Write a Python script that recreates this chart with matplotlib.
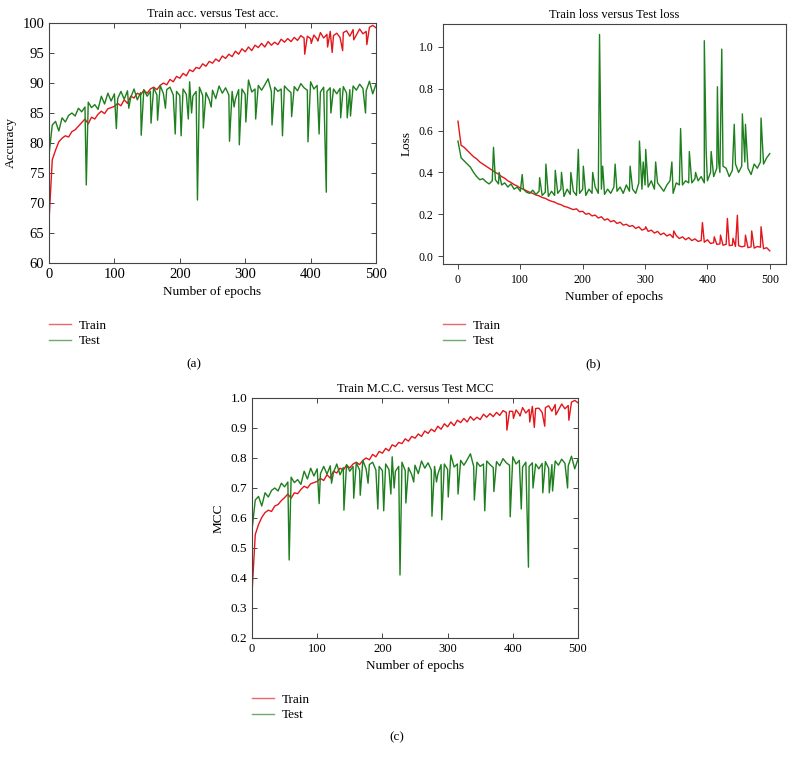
import matplotlib
matplotlib.use("Agg")
import matplotlib.pyplot as plt
import numpy as np

plt.rcParams['font.family'] = ['Liberation Serif', 'DejaVu Serif']

# base curves read every 5 epochs, plus single-epoch spikes read separately
epochs = np.arange(0, 501, 5)

train_acc = [67.0, 77.2, 78.8, 80.2, 80.8, 81.2, 81.0, 81.9, 82.2, 82.8,
             83.4, 84.0, 83.2, 84.3, 84.0, 84.8, 85.3, 84.9, 85.7, 85.9,
             86.1, 86.6, 86.2, 87.2, 86.6, 87.8, 87.5, 88.3, 88.0, 88.8,
             88.3, 89.0, 89.3, 88.9, 89.6, 90.0, 89.7, 90.6, 90.2, 91.1,
             90.8, 91.6, 91.2, 92.2, 91.9, 92.6, 92.4, 93.2, 92.8, 93.6,
             93.3, 94.0, 93.6, 94.5, 94.1, 94.8, 94.4, 95.3, 94.8, 95.7,
             95.2, 96.0, 95.4, 96.3, 95.9, 96.6, 96.0, 96.9, 96.3, 96.8,
             96.4, 97.3, 96.8, 97.4, 96.9, 97.6, 97.1, 97.9, 97.5, 97.8,
             97.4, 98.0, 97.3, 98.4, 97.5, 98.1, 98.6, 97.9, 98.3, 97.6,
             98.4, 98.7, 97.8, 98.9, 98.0, 99.0, 98.2, 98.6, 99.3, 99.6,
             99.2]
train_acc_spikes = [(391, 94.8), (401, 96.6), (411, 97.0), (426, 96.0), (433, 95.1),
                    (449, 95.4), (466, 97.2), (486, 96.4)]

test_acc = [78.0, 83.0, 83.6, 82.0, 84.2, 83.5, 84.6, 85.0, 84.5, 85.8,
            85.2, 86.0, 86.8, 85.9, 86.4, 85.6, 87.8, 86.5, 88.3, 87.0,
            88.2, 87.4, 88.6, 87.3, 88.7, 87.6, 89.0, 87.2, 88.4, 88.9,
            87.8, 88.6, 89.2, 88.0, 89.6, 88.2, 88.9, 89.3, 88.0, 88.6,
            87.9, 89.0, 88.1, 90.2, 87.8, 88.6, 89.3, 87.9, 88.4, 87.2,
            88.8, 87.4, 89.5, 88.3, 89.2, 88.0, 88.6, 87.3, 88.9, 89.0,
            88.1, 90.5, 88.5, 89.0, 89.6, 88.8, 89.7, 90.7, 88.6, 89.3,
            88.6, 89.0, 89.5, 88.9, 88.4, 89.4, 88.7, 89.9, 89.2, 88.8,
            90.2, 89.0, 89.6, 88.5, 89.3, 88.6, 89.2, 89.0, 88.2, 89.1,
            89.4, 88.3, 88.9, 89.5, 88.8, 89.8, 89.1, 88.7, 90.3, 88.2,
            89.8]
test_acc_spikes = [(57, 73.0), (103, 82.4), (122, 85.8), (141, 81.3), (156, 83.3),
                   (166, 83.8), (178, 85.8), (193, 81.5), (202, 81.2), (213, 84.0),
                   (218, 85.0), (227, 70.5), (236, 82.5), (248, 86.0), (276, 80.3),
                   (283, 86.0), (291, 79.7), (301, 83.5), (316, 84.0), (341, 83.0),
                   (357, 81.2), (371, 84.4), (396, 80.2), (413, 81.5), (424, 71.8),
                   (431, 85.0), (446, 84.2), (456, 84.2), (461, 84.5), (484, 85.0)]

train_loss = [0.645, 0.530, 0.520, 0.505, 0.490, 0.475, 0.465, 0.450, 0.440, 0.430,
              0.420, 0.410, 0.400, 0.392, 0.380, 0.372, 0.360, 0.352, 0.342, 0.335,
              0.325, 0.320, 0.312, 0.305, 0.300, 0.292, 0.288, 0.280, 0.276, 0.268,
              0.262, 0.258, 0.250, 0.246, 0.238, 0.234, 0.228, 0.222, 0.226, 0.212,
              0.214, 0.200, 0.204, 0.192, 0.196, 0.182, 0.188, 0.172, 0.178, 0.164,
              0.170, 0.156, 0.162, 0.148, 0.152, 0.142, 0.146, 0.132, 0.140, 0.124,
              0.130, 0.118, 0.124, 0.110, 0.118, 0.102, 0.110, 0.096, 0.104, 0.088,
              0.098, 0.084, 0.092, 0.078, 0.088, 0.074, 0.082, 0.070, 0.074, 0.066,
              0.078, 0.060, 0.064, 0.056, 0.058, 0.052, 0.056, 0.050, 0.052, 0.046,
              0.050, 0.044, 0.048, 0.040, 0.044, 0.038, 0.046, 0.042, 0.035, 0.040,
              0.025]
train_loss_spikes = [(301, 0.140), (346, 0.120), (392, 0.160), (411, 0.092), (421, 0.100),
                     (432, 0.180), (441, 0.085), (448, 0.195), (461, 0.100), (471, 0.120),
                     (486, 0.140)]

test_loss = [0.550, 0.470, 0.455, 0.440, 0.425, 0.400, 0.380, 0.365, 0.370, 0.355,
             0.345, 0.360, 0.365, 0.345, 0.340, 0.350, 0.330, 0.345, 0.320, 0.330,
             0.310, 0.320, 0.305, 0.300, 0.315, 0.295, 0.310, 0.290, 0.305, 0.285,
             0.310, 0.290, 0.300, 0.320, 0.285, 0.320, 0.295, 0.310, 0.290, 0.300,
             0.320, 0.290, 0.320, 0.300, 0.330, 0.300, 0.320, 0.295, 0.320, 0.300,
             0.330, 0.310, 0.330, 0.300, 0.340, 0.310, 0.320, 0.300, 0.350, 0.320,
             0.340, 0.330, 0.360, 0.320, 0.350, 0.330, 0.310, 0.340, 0.360, 0.300,
             0.350, 0.340, 0.340, 0.360, 0.350, 0.350, 0.370, 0.360, 0.380, 0.350,
             0.360, 0.400, 0.380, 0.420, 0.400, 0.430, 0.420, 0.380, 0.410, 0.440,
             0.400, 0.430, 0.450, 0.420, 0.390, 0.440, 0.420, 0.450, 0.440, 0.470,
             0.490]
test_loss_spikes = [(57, 0.52), (66, 0.40), (103, 0.39), (131, 0.375), (141, 0.44),
                    (156, 0.41), (166, 0.40), (181, 0.40), (193, 0.51), (201, 0.43),
                    (216, 0.40), (227, 1.06), (232, 0.43), (252, 0.44), (276, 0.43),
                    (291, 0.55), (297, 0.45), (301, 0.51), (317, 0.45), (343, 0.45),
                    (357, 0.61), (371, 0.50), (381, 0.40), (395, 1.03), (398, 0.50),
                    (406, 0.50), (416, 0.81), (418, 0.45), (423, 0.99), (443, 0.63),
                    (456, 0.68), (461, 0.63), (486, 0.66)]

train_mcc = [0.350, 0.545, 0.578, 0.602, 0.618, 0.626, 0.622, 0.640, 0.645, 0.658,
             0.668, 0.680, 0.666, 0.684, 0.681, 0.695, 0.706, 0.700, 0.714, 0.718,
             0.722, 0.732, 0.725, 0.744, 0.733, 0.756, 0.750, 0.766, 0.760, 0.776,
             0.767, 0.780, 0.786, 0.778, 0.792, 0.800, 0.794, 0.812, 0.804, 0.822,
             0.816, 0.832, 0.824, 0.844, 0.838, 0.852, 0.848, 0.864, 0.856, 0.872,
             0.866, 0.880, 0.872, 0.890, 0.882, 0.896, 0.888, 0.906, 0.896, 0.914,
             0.904, 0.920, 0.908, 0.926, 0.918, 0.932, 0.920, 0.938, 0.926, 0.936,
             0.928, 0.946, 0.936, 0.948, 0.938, 0.952, 0.942, 0.958, 0.952, 0.956,
             0.955, 0.960, 0.946, 0.968, 0.950, 0.962, 0.972, 0.965, 0.966, 0.952,
             0.968, 0.974, 0.956, 0.978, 0.960, 0.980, 0.964, 0.975, 0.986, 0.992,
             0.984]
train_mcc_spikes = [(391, 0.893), (401, 0.932), (411, 0.940), (426, 0.920), (433, 0.902),
                    (449, 0.906), (466, 0.944), (486, 0.926)]

test_mcc = [0.560, 0.660, 0.672, 0.640, 0.684, 0.670, 0.692, 0.700, 0.690, 0.716,
            0.704, 0.720, 0.736, 0.718, 0.728, 0.712, 0.756, 0.730, 0.766, 0.740,
            0.764, 0.748, 0.772, 0.746, 0.774, 0.752, 0.780, 0.744, 0.768, 0.778,
            0.756, 0.772, 0.784, 0.760, 0.792, 0.764, 0.778, 0.786, 0.760, 0.772,
            0.758, 0.780, 0.762, 0.804, 0.756, 0.772, 0.786, 0.758, 0.768, 0.744,
            0.776, 0.748, 0.790, 0.766, 0.784, 0.760, 0.772, 0.746, 0.778, 0.780,
            0.762, 0.810, 0.770, 0.780, 0.792, 0.776, 0.794, 0.814, 0.772, 0.786,
            0.772, 0.780, 0.790, 0.778, 0.768, 0.788, 0.774, 0.798, 0.784, 0.776,
            0.804, 0.780, 0.792, 0.770, 0.786, 0.772, 0.784, 0.780, 0.764, 0.782,
            0.788, 0.766, 0.778, 0.790, 0.776, 0.796, 0.782, 0.774, 0.806, 0.764,
            0.796]
test_mcc_spikes = [(57, 0.460), (103, 0.648), (122, 0.716), (141, 0.626), (156, 0.666),
                   (166, 0.676), (178, 0.716), (193, 0.630), (202, 0.624), (213, 0.680),
                   (218, 0.700), (227, 0.410), (236, 0.650), (248, 0.720), (276, 0.606),
                   (283, 0.720), (291, 0.594), (301, 0.670), (316, 0.680), (341, 0.660),
                   (357, 0.624), (371, 0.688), (396, 0.604), (413, 0.630), (424, 0.436),
                   (431, 0.700), (446, 0.684), (456, 0.684), (461, 0.690), (484, 0.700)]

RED = '#e3161c'
GREEN = '#1d7f1d'
W, H = 796, 764

fig = plt.figure(figsize=(W / 100, H / 100), dpi=100)


def box(l, t, r, b):
    return [l / W, 1 - b / H, (r - l) / W, (b - t) / H]


def merged(base, spikes):
    x = np.concatenate([epochs, [e for e, _ in spikes]])
    y = np.concatenate([base, [v for _, v in spikes]])
    order = np.argsort(x, kind='stable')
    return x[order], y[order]


def panel(rect, train, test, title, ylabel, ylim, yticks, boxed, tick_fs,
          xtick_fs, xlim, leg_xy, tag, tag_xy):
    ax = fig.add_axes(box(*rect))
    ax.plot(*merged(*train), color=RED, lw=1.0, label='Train')
    ax.plot(*merged(*test), color=GREEN, lw=1.0, label='Test')
    ax.set_xlim(*xlim)
    ax.set_ylim(*ylim)
    ax.set_xticks([0, 100, 200, 300, 400, 500])
    ax.set_yticks(yticks)
    ax.set_title(title, fontsize=9, pad=4)
    ax.set_xlabel('Number of epochs', fontsize=9.5, labelpad=4)
    ax.set_ylabel(ylabel, fontsize=9.5, labelpad=4)
    if boxed:
        ax.tick_params(direction='in', top=True, right=True, length=3.5,
                       width=0.7, color='#444444')
    else:
        ax.tick_params(direction='out', length=3.5, width=0.7, color='#444444')
    ax.tick_params(axis='y', labelsize=tick_fs)
    ax.tick_params(axis='x', labelsize=xtick_fs)
    for s in ax.spines.values():
        s.set_color('#444444')
        s.set_linewidth(0.8)
    leg = ax.legend(loc='center left', bbox_to_anchor=(leg_xy[0] / W, 1 - leg_xy[1] / H),
                    bbox_transform=fig.transFigure, frameon=False, fontsize=9.5,
                    handlelength=1.7, handletextpad=0.55, labelspacing=0.25,
                    borderpad=0, borderaxespad=0)
    for h in leg.legend_handles:
        h.set_alpha(0.65)
    fig.text(tag_xy[0] / W, 1 - tag_xy[1] / H, tag, fontsize=9.5,
             ha='center', va='center')
    return ax


panel((49, 23, 376, 263), (train_acc, train_acc_spikes), (test_acc, test_acc_spikes),
      'Train acc. versus Test acc.', 'Accuracy', (60, 100), np.arange(60, 101, 5),
      True, 10.5, 10.5, (0, 500), (49, 333.5), '(a)', (194, 364))
panel((443, 24, 786, 264), (train_loss, train_loss_spikes), (test_loss, test_loss_spikes),
      'Train loss versus Test loss', 'Loss', (-0.038, 1.11),
      [0.0, 0.2, 0.4, 0.6, 0.8, 1.0], False, 8.5, 8.5, (-24, 526),
      (443, 333.5), '(b)', (593, 364))
panel((252, 398, 578, 638), (train_mcc, train_mcc_spikes), (test_mcc, test_mcc_spikes),
      'Train M.C.C. versus Test MCC', 'MCC', (0.2, 1.0),
      np.round(np.arange(0.2, 1.01, 0.1), 1), True, 9.5, 9, (0, 500),
      (252, 707.5), '(c)', (397, 737))

fig.savefig('out.png', dpi=100)
